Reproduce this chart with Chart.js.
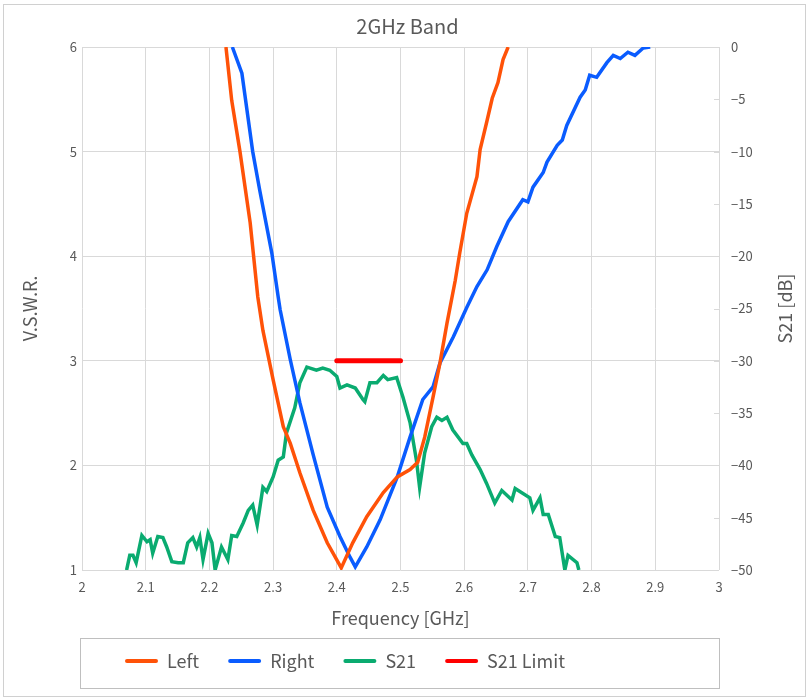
<!DOCTYPE html>
<html>
<head>
<meta charset="utf-8">
<script src="https://cdn.jsdelivr.net/npm/chart.js@4.4.1/dist/chart.umd.min.js"></script>
<style>
  html, body { margin: 0; padding: 0; background: #ffffff; }
  #wrap { position: relative; width: 809px; height: 700px; }
  canvas { display: block; }
</style>
</head>
<body>
<div id="wrap"><canvas id="c" width="809" height="700"></canvas></div>
<script>
// ---------- data ----------
const chartTitle = '2GHz Band';
const xTitle = 'Frequency [GHz]';
const yTitle = 'V.S.W.R.';
const y2Title = 'S21 [dB]';

const xTickValues = [2, 2.1, 2.2, 2.3, 2.4, 2.5, 2.6, 2.7, 2.8, 2.9, 3];
const yTickValues = [1, 2, 3, 4, 5, 6];
const y2TickValues = [-50, -45, -40, -35, -30, -25, -20, -15, -10, -5, 0];

const leftFreq = [2.226, 2.235, 2.248, 2.264, 2.276, 2.284, 2.300, 2.316, 2.327, 2.342, 2.363, 2.385, 2.407,
  2.425, 2.447, 2.473, 2.495, 2.515, 2.527, 2.538, 2.551, 2.562, 2.573, 2.586, 2.593, 2.604, 2.620, 2.625,
  2.636, 2.644, 2.653, 2.661, 2.669];
const leftVswr = [6.0, 5.49, 5.00, 4.32, 3.61, 3.29, 2.82, 2.37, 2.21, 1.93, 1.57, 1.26, 1.02,
  1.26, 1.51, 1.74, 1.89, 1.96, 2.03, 2.27, 2.65, 2.98, 3.36, 3.77, 4.03, 4.41, 4.76, 5.02,
  5.30, 5.51, 5.66, 5.88, 6.0];

const rightFreq = [2.236, 2.251, 2.268, 2.279, 2.298, 2.308, 2.311, 2.327, 2.342, 2.363, 2.385, 2.405, 2.421,
  2.429, 2.447, 2.468, 2.495, 2.515, 2.535, 2.551, 2.562, 2.583, 2.604, 2.620, 2.636, 2.651, 2.669, 2.692,
  2.700, 2.708, 2.724, 2.730, 2.746, 2.754, 2.761, 2.782, 2.790, 2.797, 2.808, 2.824, 2.834, 2.845, 2.857,
  2.868, 2.881, 2.892];
const rightVswr = [6.0, 5.75, 5.00, 4.63, 4.03, 3.61, 3.49, 3.01, 2.60, 2.10, 1.60, 1.32, 1.12,
  1.03, 1.22, 1.48, 1.89, 2.27, 2.63, 2.75, 2.98, 3.23, 3.51, 3.71, 3.87, 4.09, 4.33, 4.54,
  4.52, 4.66, 4.80, 4.90, 5.06, 5.11, 5.25, 5.52, 5.59, 5.73, 5.71, 5.85, 5.92, 5.89, 5.95,
  5.92, 5.99, 6.0];

const s21Freq = [2.070, 2.075, 2.080, 2.085, 2.094, 2.102, 2.107, 2.111, 2.119, 2.127, 2.133, 2.141, 2.151,
  2.159, 2.166, 2.174, 2.180, 2.185, 2.190, 2.198, 2.204, 2.209, 2.219, 2.229, 2.235, 2.243, 2.253, 2.261,
  2.268, 2.275, 2.284, 2.290, 2.300, 2.308, 2.316, 2.321, 2.334, 2.342, 2.353, 2.358, 2.368, 2.378, 2.389,
  2.400, 2.405, 2.416, 2.429, 2.441, 2.444, 2.452, 2.463, 2.473, 2.480, 2.494, 2.504, 2.515, 2.525, 2.530,
  2.538, 2.549, 2.557, 2.565, 2.573, 2.582, 2.598, 2.604, 2.612, 2.625, 2.635, 2.648, 2.659, 2.675, 2.680,
  2.703, 2.708, 2.719, 2.724, 2.732, 2.743, 2.750, 2.758, 2.763, 2.777, 2.780];
const s21Db = [-50.0, -48.6, -48.6, -49.3, -46.7, -47.3, -47.1, -48.4, -46.8, -46.9, -47.8, -49.2, -49.3,
  -49.3, -47.4, -46.9, -47.8, -46.9, -49.0, -46.5, -47.4, -50.0, -47.8, -49.0, -46.7, -46.8, -45.5, -44.3,
  -43.8, -45.7, -42.1, -42.5, -41.1, -39.5, -39.2, -36.9, -34.5, -32.1, -30.6, -30.7, -30.9, -30.7, -30.9,
  -31.5, -32.6, -32.3, -32.6, -33.7, -33.9, -32.1, -32.1, -31.4, -31.8, -31.6, -33.5, -35.9, -39.5, -42.1,
  -38.8, -36.3, -35.4, -35.7, -35.4, -36.6, -37.9, -37.9, -39.0, -40.4, -41.7, -43.6, -42.4, -43.3, -42.2,
  -43.1, -44.3, -43.1, -44.7, -44.7, -46.8, -46.9, -50.0, -48.6, -49.3, -50.0];

const limitFreq = [2.4, 2.5];
const limitDb = [-30, -30];

// ---------- styling ----------
const FONT = '"Noto Sans CJK JP", "Noto Sans", sans-serif';
const TEXT = '#595959';
const GRID = '#d9d9d9';
const COL_LEFT = '#ff5208';
const COL_RIGHT = '#0a5cff';
const COL_S21 = '#0aab70';
const COL_LIMIT = '#ff0000';
const LEGEND_PAD = 29;

const pts = (xs, ys) => xs.map((x, i) => ({ x: x, y: ys[i] }));
const setTicks = vals => scale => { scale.ticks = vals.map(v => ({ value: v })); };

const decorPlugin = {
  id: 'decor',
  afterLayout(chart) {
    const lg = chart.legend;
    if (lg && lg.lineWidths) {
      const start = (lg.left + LEGEND_PAD + lg.right - lg.lineWidths[0]) / 2;
      const dx = 125 - start;
      lg.left += dx;
      lg.right += dx;
    }
  },
  beforeDraw(chart) {
    const ctx = chart.ctx;
    ctx.save();
    ctx.fillStyle = '#ffffff';
    ctx.fillRect(0, 0, chart.width, chart.height);
    ctx.restore();
  },
  afterDraw(chart) {
    const ctx = chart.ctx;
    const ca = chart.chartArea;
    const y2 = chart.scales.y2;
    ctx.save();
    // outer frame
    ctx.strokeStyle = '#d0d0d0';
    ctx.lineWidth = 1;
    ctx.strokeRect(3.5, 4.5, 802, 692);
    // legend frame
    const lg = chart.legend;
    const cy = lg.top + LEGEND_PAD + 9;
    ctx.strokeStyle = '#bfbfbf';
    ctx.strokeRect(Math.round(ca.left) - 1.5, Math.round(cy - 23) + 0.5, Math.round(ca.right - ca.left) + 2, 50);
    // inner tick marks of right axis
    ctx.strokeStyle = GRID;
    y2TickValues.forEach(v => {
      const py = Math.round(y2.getPixelForValue(v)) + 0.5;
      ctx.beginPath();
      ctx.moveTo(ca.right - 5, py);
      ctx.lineTo(ca.right, py);
      ctx.stroke();
    });
    // right axis title (reads bottom-to-top)
    ctx.fillStyle = TEXT;
    ctx.font = '18px ' + FONT;
    ctx.textAlign = 'center';
    ctx.textBaseline = 'middle';
    ctx.translate(785, (ca.top + ca.bottom) / 2);
    ctx.rotate(-Math.PI / 2);
    ctx.fillText(y2Title, 0, 0);
    ctx.restore();
  }
};

new Chart(document.getElementById('c'), {
  type: 'line',
  data: {
    datasets: [
      { label: 'Left', data: pts(leftFreq, leftVswr), yAxisID: 'y', borderColor: COL_LEFT, backgroundColor: COL_LEFT, borderWidth: 3.5, pointRadius: 0, tension: 0 },
      { label: 'Right', data: pts(rightFreq, rightVswr), yAxisID: 'y', borderColor: COL_RIGHT, backgroundColor: COL_RIGHT, borderWidth: 3.5, pointRadius: 0, tension: 0 },
      { label: 'S21', data: pts(s21Freq, s21Db), yAxisID: 'y2', borderColor: COL_S21, backgroundColor: COL_S21, borderWidth: 3.5, pointRadius: 0, tension: 0 },
      { label: 'S21 Limit', data: pts(limitFreq, limitDb), yAxisID: 'y2', borderColor: COL_LIMIT, backgroundColor: COL_LIMIT, borderWidth: 5, borderCapStyle: 'round', pointRadius: 0, tension: 0 }
    ]
  },
  options: {
    responsive: false,
    animation: false,
    devicePixelRatio: 1,
    layout: { padding: { left: 10, right: 4, top: 4, bottom: 20 } },
    plugins: {
      title: {
        display: true, text: chartTitle, color: TEXT,
        font: { family: FONT, size: 20, weight: 'normal', lineHeight: 1.2 },
        padding: { top: 10, bottom: 9 }
      },
      legend: {
        position: 'bottom',
        labels: {
          color: TEXT,
          font: { family: FONT, size: 18 },
          boxWidth: 33, boxHeight: 4,
          padding: LEGEND_PAD,
          useBorderRadius: true, borderRadius: 2,
          generateLabels(chart) {
            return Chart.defaults.plugins.legend.labels.generateLabels(chart).map(l => Object.assign(l, { lineWidth: 0 }));
          }
        }
      },
      tooltip: { enabled: false }
    },
    scales: {
      x: {
        type: 'linear', min: 2, max: 3,
        afterBuildTicks: setTicks(xTickValues),
        afterFit(scale) { scale.height = 53; },
        grid: { color: GRID, lineWidth: 1, drawTicks: false },
        border: { display: false },
        ticks: { color: TEXT, font: { family: FONT, size: 13 }, padding: 9, maxRotation: 0, callback: v => String(v) },
        title: { display: true, text: xTitle, color: TEXT, font: { family: FONT, size: 18, lineHeight: 1.2 }, padding: { top: 0, bottom: -5.8 } }
      },
      y: {
        type: 'linear', position: 'left', min: 1, max: 6,
        afterBuildTicks: setTicks(yTickValues),
        afterFit(scale) { scale.width = 72; },
        grid: { color: GRID, lineWidth: 1, drawTicks: false },
        border: { display: false },
        ticks: { color: TEXT, font: { family: FONT, size: 13 }, padding: 5 },
        title: { display: true, text: yTitle, color: TEXT, font: { family: FONT, size: 18, lineHeight: 1.2 }, padding: { top: 9.2, bottom: 0 } }
      },
      y2: {
        type: 'linear', position: 'right', min: -50, max: 0,
        afterBuildTicks: setTicks(y2TickValues),
        afterFit(scale) { scale.width = 86; },
        grid: { drawOnChartArea: false, drawTicks: false },
        border: { display: false },
        ticks: { color: TEXT, font: { family: FONT, size: 13 }, padding: 12, callback: v => String(v).replace('-', '\u2212') },
        title: { display: false }
      }
    }
  },
  plugins: [decorPlugin]
});
</script>
</body>
</html>
